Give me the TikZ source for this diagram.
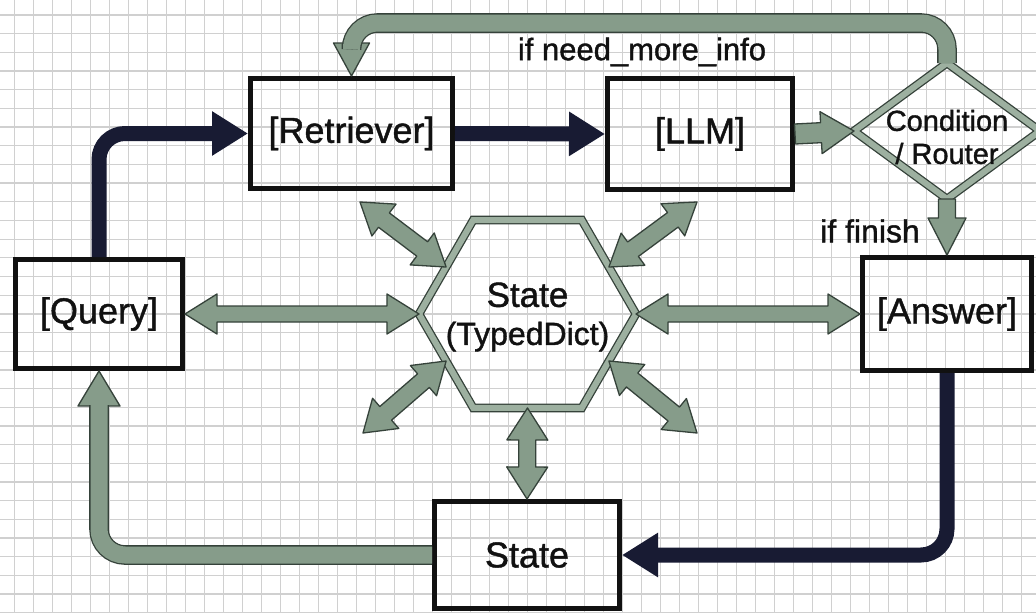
\documentclass[tikz,border=0pt]{standalone}
\usepackage{fontspec}
\setmainfont{Liberation Sans}[UprightFeatures={FakeBold=1.2}]
\usetikzlibrary{calc,arrows.meta,shapes.geometric}

\definecolor{navy}{HTML}{181B33}
\definecolor{boxline}{HTML}{111111}
\definecolor{gfill}{HTML}{869C8A}
\definecolor{gbandc}{HTML}{9DB0A0}
\definecolor{gedge}{HTML}{35423A}
\definecolor{gridc}{HTML}{D0D0D0}
\definecolor{ink}{HTML}{111111}

\tikzset{
  gridline/.style={draw=gridc, line width=1.3pt},
  stepbox/.style={draw=boxline, line width=5pt, rectangle, inner sep=0pt, text=ink,
                  font=\fontsize{36}{40}\selectfont},
  gblock/.style={fill=gfill, draw=gedge, line width=1.3pt, line join=round},
  bandline/.style={draw=gedge, line width=1.3pt, double=gbandc, double distance=6pt},
  darrow/.style={draw=navy, line width=15pt, rounded corners=26pt,
                 -{Triangle[length=36pt,width=42pt]}},
  gbent/.style={draw=gfill, line width=17pt, rounded corners=26pt,
                preaction={draw=gedge, line width=19.6pt}},
  lbl/.style={text=ink, inner sep=0pt},
}

% double-headed block arrow: start, end, shaft half width, head half width, head length
\newcommand\gdouble[5]{%
  \draw[gblock] (#1)
    -- ($(#1)!#5!(#2)!#4!90:(#2)$)
    -- ($(#1)!#5!(#2)!#3!90:(#2)$)
    -- ($(#2)!#5!(#1)!#3!-90:(#1)$)
    -- ($(#2)!#5!(#1)!#4!-90:(#1)$)
    -- (#2)
    -- ($(#2)!#5!(#1)!#4!90:(#1)$)
    -- ($(#2)!#5!(#1)!#3!90:(#1)$)
    -- ($(#1)!#5!(#2)!#3!-90:(#2)$)
    -- ($(#1)!#5!(#2)!#4!-90:(#2)$)
    -- cycle;}
% single-headed block arrow: start, tip, shaft half width, head half width, head length
\newcommand\gsingle[5]{%
  \draw[gblock] ($(#1)!#3!90:(#2)$)
    -- ($(#2)!#5!(#1)!#3!-90:(#1)$)
    -- ($(#2)!#5!(#1)!#4!-90:(#1)$)
    -- (#2)
    -- ($(#2)!#5!(#1)!#4!90:(#1)$)
    -- ($(#2)!#5!(#1)!#3!90:(#1)$)
    -- ($(#1)!#3!-90:(#2)$)
    -- cycle;}
% triangular head: base centre, tip, half width
\newcommand\ghead[3]{%
  \draw[gblock] ($(#1)!#3!90:(#2)$) -- (#2) -- ($(#1)!#3!-90:(#2)$) -- cycle;}

\begin{document}
\begin{tikzpicture}[x=1pt, y=-1pt]
  % paper and grid
  \fill[white] (0,0) rectangle (1036,613);
  \useasboundingbox (0,0) rectangle (1036,613);
  \foreach \gx in {0,...,53} {\draw[gridline] ({14.3+19*\gx},0) -- ({14.3+19*\gx},613);}
  \foreach \gy in {0,...,32} {\draw[gridline] (0,{15+18.68*\gy}) -- (1036,{15+18.68*\gy});}

  % shared state hexagon and router diamond
  \node[regular polygon, regular polygon sides=6, bandline, minimum size=217pt,
        inner sep=0pt, outer sep=0pt] (hex) at (527.5,314) {};
  \node[lbl, align=center, font=\fontsize{32}{38}\selectfont] (hext) at (527.5,317)
        {{\fontsize{35}{38}\selectfont State}\\(TypedDict)};
  \node[diamond, bandline, minimum width=186pt, minimum height=136pt,
        inner sep=0pt, outer sep=0pt] (cond) at (947,131) {};
  \node[lbl, align=center, font=\fontsize{29}{33}\selectfont] (condt) at (947,137)
        {Condition\\/ Router};

  % process boxes
  \node[stepbox, minimum width=202pt, minimum height=110pt] (ret) at (351.5,133.5) {[Retriever]};
  \node[stepbox, minimum width=185pt, minimum height=111pt] (llm) at (700,134) {[LLM]};
  \node[stepbox, minimum width=167pt, minimum height=109pt] (qry) at (99,314) {[Query]};
  \node[stepbox, minimum width=169pt, minimum height=113pt] (ans) at (947,314) {[Answer]};
  \node[stepbox, minimum width=185pt, minimum height=107pt] (st) at (527,555) {State};

  % branch labels
  \node[lbl, font=\fontsize{31}{36}\selectfont] (need) at (642,52) {if need\_more\_info};
  \node[lbl, font=\fontsize{32}{36}\selectfont] (fin) at (870,231) {if finish};

  % outer ends of the diagonal state links
  \coordinate (ul) at (360,202);
  \coordinate (ur) at (697,202);
  \coordinate (ll) at (363,433);
  \coordinate (lr) at (697,433);

  % state read/write links
  \gdouble{qry.east}{hex.west}{8pt}{20pt}{32pt}
  \gdouble{hex.east}{ans.west}{8pt}{20pt}{32pt}
  \gdouble{hex.south}{st.north}{8.5pt}{20.5pt}{32pt}
  \gdouble{ul}{hex.150}{9pt}{20pt}{30pt}
  \gdouble{ur}{hex.30}{9pt}{20pt}{30pt}
  \gdouble{ll}{hex.210}{9pt}{20pt}{30pt}
  \gdouble{lr}{hex.330}{9pt}{20pt}{30pt}

  % router branches
  \gsingle{llm.east}{cond.west}{10pt}{21pt}{33pt}
  \gsingle{cond.south}{ans.north}{8.5pt}{19pt}{37pt}
  \coordinate (toprow) at (0,23);
  \coordinate (rethead) at ($(ret.north)+(0,-33)$);
  \ghead{rethead}{ret.north}{18pt}
  \draw[gbent] (cond.north) -- (cond.north |- toprow) -- (ret.north |- toprow)
        -- ($(rethead)+(0,1)$);

  % loop back from the state box to the query
  \coordinate (qhead) at ($(qry.south)+(0,35)$);
  \ghead{qhead}{qry.south}{21pt}
  \draw[gbent] (st.west) -- (qry.south |- st.west) -- ($(qhead)+(0,-1)$);

  % main flow
  \draw[darrow] (qry.north) |- (ret.west);
  \draw[darrow] (ret.east) -- (llm.west);
  \draw[darrow] (ans.south) |- (st.east);
\end{tikzpicture}
\end{document}
